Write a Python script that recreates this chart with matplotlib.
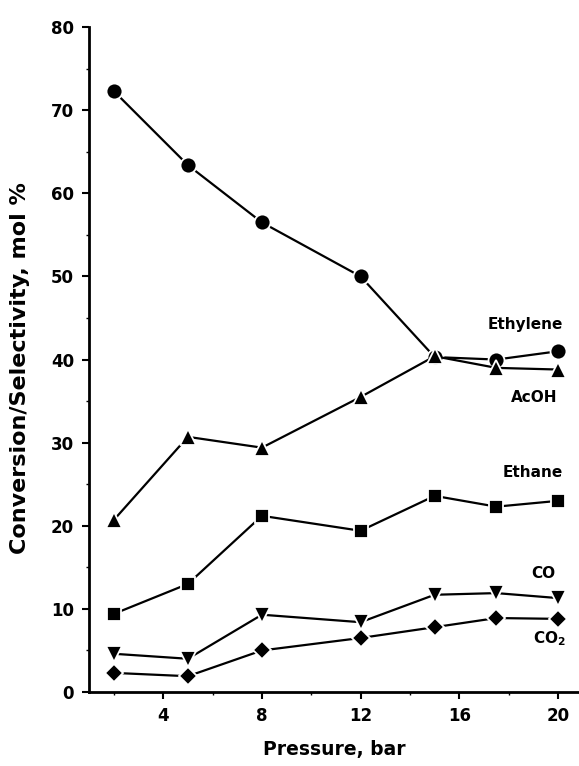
import matplotlib
matplotlib.use("Agg")
import matplotlib.pyplot as plt
from matplotlib.ticker import MultipleLocator, FixedLocator

plt.rcParams['font.family'] = ['DejaVu Sans']
plt.rcParams['font.weight'] = 'bold'
plt.rcParams['mathtext.fontset'] = 'dejavusans'
plt.rcParams['mathtext.default'] = 'bf'

pressure = [2, 5, 8, 12, 15, 17.5, 20]
ethylene = [72.3, 63.4, 56.5, 50.0, 40.3, 40.0, 41.0]
acoh = [20.7, 30.7, 29.4, 35.5, 40.4, 39.0, 38.8]
ethane = [9.4, 13.0, 21.2, 19.4, 23.6, 22.3, 23.0]
co = [4.6, 4.0, 9.3, 8.4, 11.7, 11.9, 11.3]
co2 = [2.3, 1.9, 5.0, 6.5, 7.8, 8.9, 8.8]

series = [
    ("Ethylene", ethylene, "o", 11.5),
    ("AcOH", acoh, "^", 12),
    ("Ethane", ethane, "s", 10.5),
    ("CO", co, "v", 12),
    ("CO$_2$", co2, "D", 9.5),
]
label_pos = {
    "Ethylene": (20.2, 43.7),
    "AcOH": (19.96, 34.9),
    "Ethane": (20.2, 25.9),
    "CO": (19.9, 13.7),
    "CO$_2$": (20.3, 5.9),
}

fig = plt.figure(figsize=(5.79, 7.66), dpi=100)
ax = fig.add_axes([0.154, 0.0966, 0.846, 0.868])

for name, vals, mk, ms in series:
    ax.plot(pressure, vals, color='black', lw=1.6, marker=mk, ms=ms,
            markerfacecolor='black', markeredgecolor='white', markeredgewidth=1.3,
            zorder=3)
    x, y = label_pos[name]
    ax.text(x, y, name, ha='right', va='baseline', fontsize=11, fontweight='bold')

ax.set_xlim(1.0, 20.85)
ax.set_ylim(0, 80)
ax.xaxis.set_major_locator(FixedLocator([4, 8, 12, 16, 20]))
ax.xaxis.set_minor_locator(FixedLocator([2, 6, 10, 14, 18]))
ax.yaxis.set_major_locator(MultipleLocator(10))
ax.yaxis.set_minor_locator(MultipleLocator(5))

for s in ['top', 'right']:
    ax.spines[s].set_visible(False)
for s in ['left', 'bottom']:
    ax.spines[s].set_linewidth(2.0)

ax.tick_params(axis='both', which='major', direction='out', length=5, width=1.5,
               labelsize=12, pad=6)
ax.tick_params(axis='both', which='minor', direction='out', length=2, width=1)
for lbl in ax.get_xticklabels() + ax.get_yticklabels():
    lbl.set_fontweight('bold')

ax.set_xlabel("Pressure, bar", fontsize=13.5, fontweight='bold')
ax.xaxis.set_label_coords(0.5, -0.072)
ax.set_ylabel("Conversion/Selectivity, mol %", fontsize=16, fontweight='bold')
ax.yaxis.set_label_coords(-0.12, 0.487)

fig.savefig("out.png", dpi=100)
